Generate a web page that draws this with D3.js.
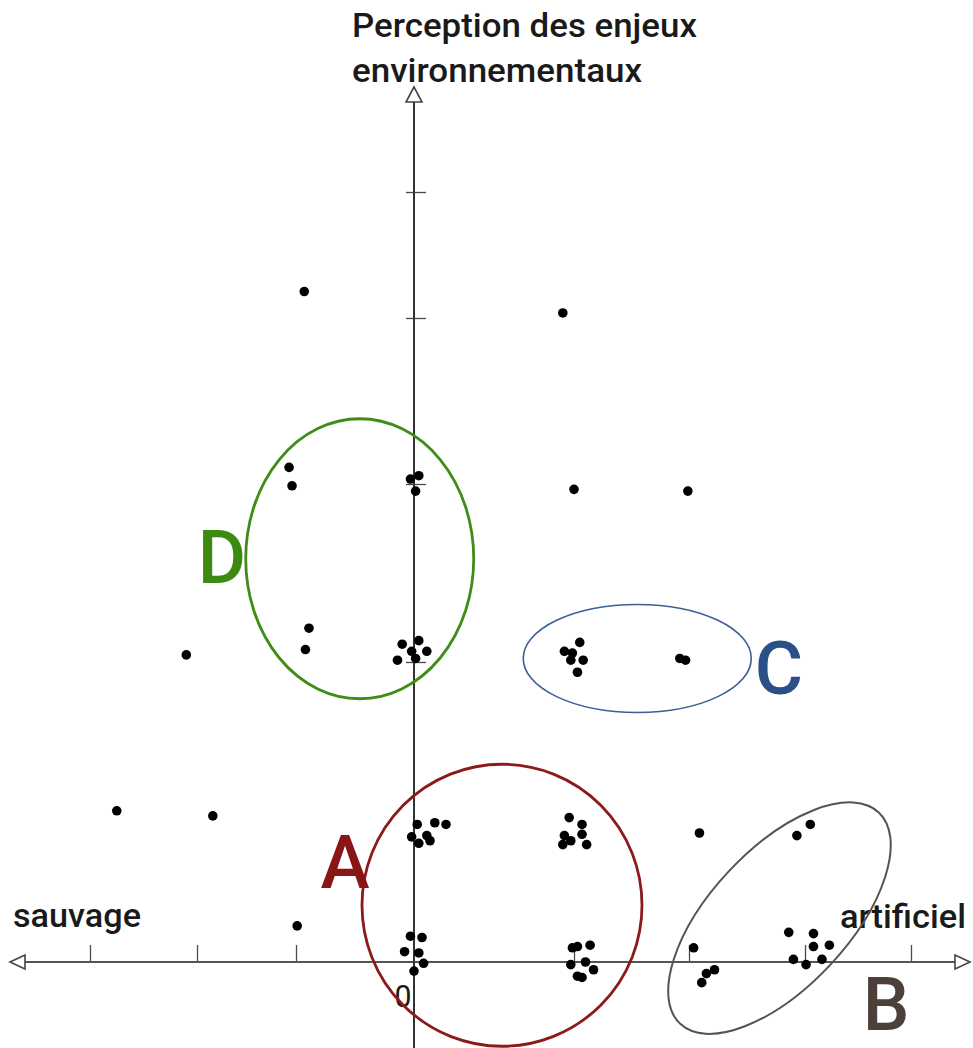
<!DOCTYPE html>
<html>
<head>
<meta charset="utf-8">
<script src="https://cdn.jsdelivr.net/npm/d3@7/dist/d3.min.js"></script>
<style>
  html, body { margin: 0; padding: 0; background: #fff; }
  svg { display: block; }
  text { font-family: Roboto, "DejaVu Sans", sans-serif; }
</style>
</head>
<body>
<svg id="chart" width="973" height="1048"></svg>
<script>
// ---------- DATA (values in axis units) ----------
const xTickValues = [-3, -2, -1, 1, 2, 3, 4];
const yTickValues = [2, 3, 4, 5];

const xAxisLabelLeft = "sauvage";
const xAxisLabelRight = "artificiel";
const yAxisTitle = ["Perception des enjeux", "environnementaux"];
const originLabel = "0";

const isolatedPoints = [
  [-0.93, 4.21], [0.93, 4.04], [1.00, 2.97], [1.99, 2.96], [-2.10, 2.04],
  [-2.75, 1.13], [-1.84, 1.10], [-0.99, 0.28], [2.09, 1.00]
];
const clusterD = [
  [-1.07, 3.10], [-1.04, 2.99], [-0.89, 2.19], [-0.92, 2.07],
  [-0.03, 3.03], [0.03, 3.05], [0.01, 2.96],
  [0.03, 2.12], [-0.10, 2.10], [-0.02, 2.06], [0.08, 2.06], [-0.14, 2.01], [0.01, 2.02]
];
const clusterC = [
  [1.05, 2.11], [0.94, 2.06], [0.99, 2.05], [0.98, 2.01], [1.08, 2.01], [1.03, 1.94],
  [1.92, 2.02], [1.97, 2.01]
];
const clusterA = [
  [0.02, 1.05], [0.13, 1.06], [0.20, 1.05], [-0.02, 0.97], [0.03, 0.92], [0.08, 0.98], [0.10, 0.94],
  [0.97, 1.09], [1.07, 1.05], [1.07, 0.99], [0.94, 0.98], [0.98, 0.94], [0.93, 0.91], [1.11, 0.91],
  [-0.03, 0.20], [0.05, 0.19], [-0.08, 0.08], [0.03, 0.07], [0.06, -0.01], [0.00, -0.07],
  [0.99, 0.11], [1.03, 0.12], [1.14, 0.13], [0.98, -0.02], [1.10, 0.00], [1.17, -0.06], [1.03, -0.11], [1.07, -0.12]
];
const clusterB = [
  [2.93, 0.98], [3.05, 1.05],
  [2.04, 0.11], [2.22, -0.06], [2.15, -0.09], [2.11, -0.16],
  [2.86, 0.23], [3.08, 0.22], [3.08, 0.12], [3.23, 0.13], [2.90, 0.02], [3.01, -0.02], [3.16, 0.02]
];

// group envelopes: name, centre (axis units)
const groupNames = ["D", "C", "A", "B"];
const groupCentres = [[-0.46, 2.58], [1.55, 2.02], [0.55, 0.44], [2.78, 0.34]];

// ---------- SCALES (hand-drawn, unevenly spaced graduations) ----------
const x = d3.scaleLinear()
  .domain([-3, -2, -1, 0, 1, 2, 3, 4])
  .range([90, 197, 296, 414, 574, 689, 805, 911]);
const y = d3.scaleLinear()
  .domain([0, 1, 2, 3, 4, 5])
  .range([962, 833, 662, 484, 318, 192]);

const svg = d3.select("#chart");

// ---------- STYLE / LAYOUT ----------
const groupStyle = {
  D: { stroke: "#3f8c17", text: "#3c8a12", rx: 114, ry: 140, rot: 0, sw: 2.8, lab: [222, 583] },
  C: { stroke: "#3d5f97", text: "#2b4f87", rx: 114, ry: 54, rot: 0, sw: 1.6, lab: [779, 694] },
  A: { stroke: "#8b1a1a", text: "#8a1515", rx: 140, ry: 141, rot: 0, sw: 2.8, lab: [345, 888] },
  B: { stroke: "#5a524c", text: "#4b403a", rx: 145, ry: 69, rot: -46.8, sw: 2.0, lab: [886, 1030] }
};

const axisColor = "#4a4a4a";
const x0 = x(0), y0 = y(0);
const xLeft = 10, xRight = 970, yTop = 87, yBottom = 1048;

// ---------- AXES ----------
const gx = svg.append("g")
  .attr("transform", `translate(0,${y0 + 1})`)
  .call(d3.axisTop(x).tickValues(xTickValues).tickSize(18).tickFormat(""));
gx.select(".domain").remove();
gx.selectAll(".tick line").attr("stroke", axisColor).attr("stroke-width", 1.3);

const gy = svg.append("g")
  .attr("transform", `translate(${x0 - 8},0)`)
  .call(d3.axisRight(y).tickValues(yTickValues).tickSize(20).tickFormat(""));
gy.select(".domain").remove();
gy.selectAll(".tick line").attr("stroke", axisColor).attr("stroke-width", 1.3);

svg.append("line")
  .attr("x1", xLeft + 14).attr("x2", xRight - 14)
  .attr("y1", y0).attr("y2", y0)
  .attr("stroke", "#555").attr("stroke-width", 2);
svg.append("line")
  .attr("x1", x0).attr("x2", x0)
  .attr("y1", yTop + 15).attr("y2", yBottom)
  .attr("stroke", "#333").attr("stroke-width", 2);

const arrowStyle = s => s.attr("fill", "#fff").attr("stroke", "#444").attr("stroke-width", 1.6);
svg.append("path")
  .attr("d", `M${xLeft},${y0} L${xLeft + 15},${y0 - 7} L${xLeft + 15},${y0 + 7} Z`)
  .call(arrowStyle);
svg.append("path")
  .attr("d", `M${xRight},${y0} L${xRight - 15},${y0 - 7} L${xRight - 15},${y0 + 7} Z`)
  .call(arrowStyle);
svg.append("path")
  .attr("d", `M${x0},${yTop} L${x0 - 8},${yTop + 15} L${x0 + 8},${yTop + 15} Z`)
  .call(arrowStyle);

// ---------- AXIS TEXTS ----------
const textColor = "#1a1a1a";
const axisText = (txt, tx, ty, len) => svg.append("text").text(txt)
  .attr("x", tx).attr("y", ty)
  .attr("font-size", 33).attr("font-weight", 500).attr("fill", textColor)
  .attr("textLength", len).attr("lengthAdjust", "spacingAndGlyphs");
axisText(yAxisTitle[0], 352, 37, 345);
axisText(yAxisTitle[1], 352, 82, 290);
axisText(xAxisLabelLeft, 13, 927, 128);
axisText(xAxisLabelRight, 840, 928, 126);
svg.append("text").text(originLabel)
  .attr("x", 403).attr("y", 1007).attr("text-anchor", "middle")
  .attr("font-size", 32).attr("fill", textColor)
  .attr("textLength", 17).attr("lengthAdjust", "spacingAndGlyphs");

// ---------- GROUP ENVELOPES ----------
groupNames.forEach((name, i) => {
  const st = groupStyle[name];
  const cx = x(groupCentres[i][0]), cy = y(groupCentres[i][1]);
  svg.append("ellipse")
    .attr("cx", 0).attr("cy", 0)
    .attr("rx", st.rx).attr("ry", st.ry)
    .attr("transform", `translate(${cx},${cy}) rotate(${st.rot})`)
    .attr("fill", "none").attr("stroke", st.stroke).attr("stroke-width", st.sw);
  svg.append("text").text(name)
    .attr("x", st.lab[0]).attr("y", st.lab[1])
    .attr("text-anchor", "middle")
    .attr("font-size", 74).attr("font-weight", 500)
    .attr("fill", st.text);
});

// ---------- POINTS ----------
const allPoints = [].concat(isolatedPoints, clusterD, clusterC, clusterA, clusterB);
svg.append("g").selectAll("circle")
  .data(allPoints)
  .join("circle")
  .attr("cx", d => x(d[0]))
  .attr("cy", d => y(d[1]))
  .attr("r", 4.8)
  .attr("fill", "#000");
</script>
</body>
</html>
